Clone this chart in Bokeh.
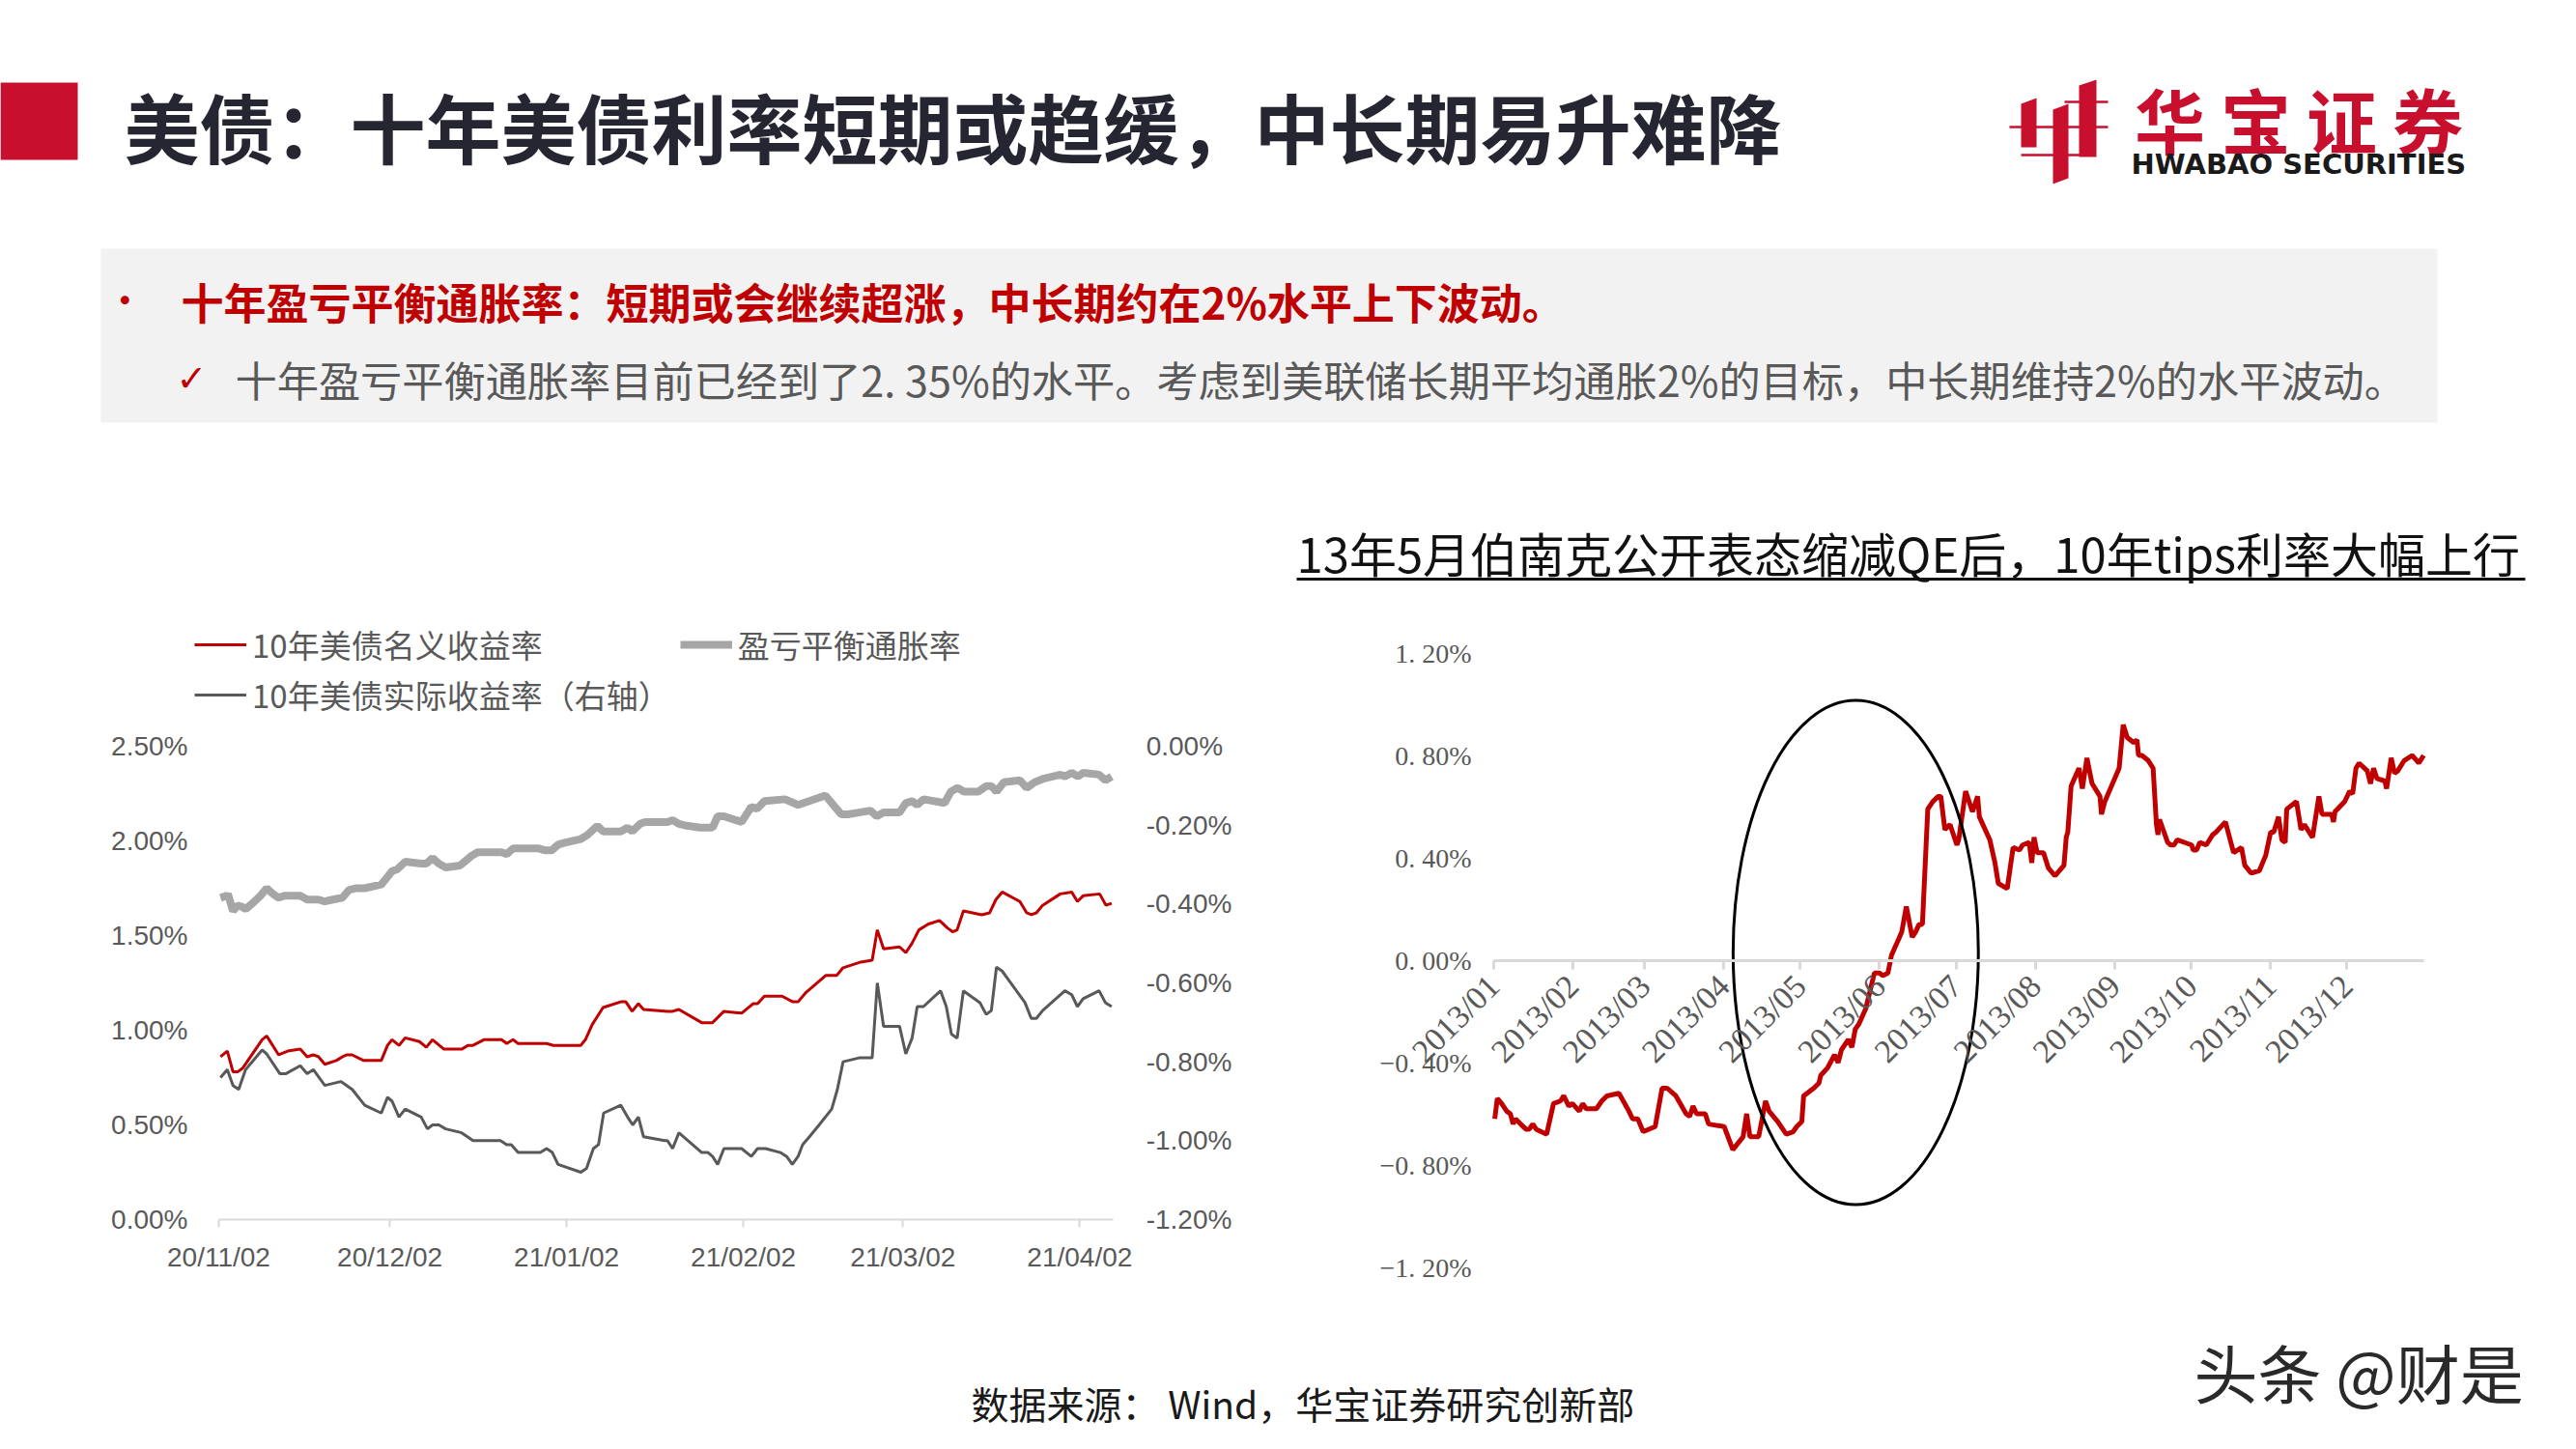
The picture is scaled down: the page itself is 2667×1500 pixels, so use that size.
import pandas as pd
from math import pi
from bokeh.plotting import figure
from bokeh.layouts import column, row
from bokeh.models import (Range1d, LinearAxis, FixedTicker, PrintfTickFormatter,
                          Legend, LegendItem)
from bokeh.core.properties import value
from bokeh.embed import file_html
from bokeh.resources import INLINE

CJK = "Noto Sans CJK SC"
RED = "#c00000"
LOGO_RED = "#c8102e"

# ---------------------------------------------------------------- data
# left chart: x = days after 2020-11-02
LEFT_START = "2020-11-02"
LEFT_END_DAYS = 156.9
BE_DAYS = [0.3, 1.4, 1.6, 2.5, 3.3, 4.2, 4.7, 5.9, 7.3, 8.4, 9.5, 10.5, 11.5, 14.3, 15.5, 17.5, 18.6,
           20.0, 21.7, 22.8, 24.0, 25.6, 28.5, 29.6, 30.4, 31.3, 32.7, 35.5, 36.4, 37.5, 38.6, 39.8,
           42.3, 43.1, 44.3, 45.4, 46.5, 49.6, 50.5, 51.6, 56.1, 57.3, 58.4, 59.5, 60.7, 63.5, 64.6,
           66.4, 67.4, 70.5, 71.7, 72.5, 73.9, 74.8, 78.7, 79.6, 80.7, 82.1, 84.4, 86.6, 87.5, 88.6,
           91.7, 93.4, 94.4, 95.7, 99.3, 101.6, 106.4, 107.5, 109.2, 110.3, 112.3, 114.3, 115.4,
           116.6, 119.4, 120.5, 121.6, 122.5, 123.6, 127.3, 128.4, 129.6, 130.7, 133.2, 134.6, 135.5,
           136.4, 137.7, 140.5, 141.7, 143.1, 144.8, 147.6, 148.4, 149.6, 150.7, 151.6, 154.4, 155.5,
           156.6]
BE_VALS = [1.70, 1.71, 1.72, 1.63, 1.66, 1.65, 1.64, 1.67, 1.71, 1.75, 1.72, 1.70, 1.71, 1.71, 1.69,
           1.69, 1.68, 1.69, 1.70, 1.74, 1.75, 1.75, 1.77, 1.81, 1.84, 1.85, 1.89, 1.88, 1.88, 1.91,
           1.88, 1.86, 1.87, 1.89, 1.92, 1.94, 1.94, 1.94, 1.93, 1.96, 1.96, 1.95, 1.95, 1.98, 1.99,
           2.01, 2.03, 2.08, 2.05, 2.05, 2.07, 2.05, 2.09, 2.10, 2.10, 2.11, 2.09, 2.08, 2.07, 2.07,
           2.13, 2.13, 2.10, 2.18, 2.17, 2.21, 2.22, 2.19, 2.24, 2.20, 2.14, 2.14, 2.15, 2.16, 2.13,
           2.15, 2.15, 2.20, 2.21, 2.19, 2.22, 2.20, 2.26, 2.28, 2.26, 2.26, 2.29, 2.29, 2.26, 2.31,
           2.32, 2.28, 2.31, 2.33, 2.35, 2.34, 2.36, 2.34, 2.36, 2.35, 2.32, 2.34]

NOM_DAYS = [0.3, 1.5, 2.5, 3.3, 4.2, 7.6, 8.4, 10.5, 12.1, 14.3, 15.5, 16.6, 17.5, 18.6, 20.6, 21.7,
            22.5, 23.4, 25.4, 28.5, 29.6, 30.4, 31.6, 32.7, 35.2, 36.4, 37.5, 39.5, 42.6, 43.7, 44.6,
            46.5, 49.6, 50.5, 51.6, 52.5, 57.5, 58.7, 63.5, 64.3, 65.5, 67.4, 70.5, 71.4, 72.5, 73.6,
            74.5, 78.7, 79.6, 80.7, 84.7, 86.6, 88.6, 91.7, 93.7, 94.5, 95.7, 98.8, 100.7, 101.6,
            103.0, 106.5, 108.4, 109.5, 112.6, 114.6, 115.5, 116.6, 119.4, 120.5, 121.6, 122.8, 124.4,
            126.4, 127.8, 128.7, 129.5, 130.6, 133.8, 135.2, 136.3, 137.4, 140.5, 141.7, 142.5, 143.4,
            144.5, 147.6, 149.6, 150.6, 151.6, 154.5, 155.6, 156.6]
NOM_VALS = [0.86, 0.89, 0.78, 0.78, 0.80, 0.95, 0.97, 0.87, 0.89, 0.90, 0.86, 0.87, 0.86, 0.82, 0.84,
            0.86, 0.87, 0.87, 0.84, 0.84, 0.92, 0.95, 0.92, 0.96, 0.94, 0.91, 0.95, 0.90, 0.90, 0.92,
            0.92, 0.95, 0.95, 0.93, 0.95, 0.93, 0.93, 0.92, 0.92, 0.95, 1.03, 1.12, 1.15, 1.15, 1.10,
            1.14, 1.11, 1.10, 1.10, 1.11, 1.04, 1.04, 1.10, 1.09, 1.14, 1.14, 1.18, 1.18, 1.15, 1.15,
            1.20, 1.29, 1.29, 1.33, 1.36, 1.37, 1.53, 1.43, 1.44, 1.41, 1.46, 1.53, 1.56, 1.58, 1.54,
            1.52, 1.53, 1.63, 1.61, 1.62, 1.69, 1.73, 1.68, 1.62, 1.61, 1.62, 1.66, 1.72, 1.73, 1.68,
            1.71, 1.72, 1.66, 1.67]

REAL_DAYS = [0.3, 1.5, 2.5, 3.5, 4.7, 7.6, 8.4, 10.7, 11.8, 14.3, 15.5, 16.6, 18.6, 21.4, 23.4, 25.6,
             28.5, 29.6, 30.4, 31.6, 32.7, 35.5, 36.6, 37.5, 38.6, 39.8, 42.6, 44.6, 49.4, 50.5, 51.3,
             52.5, 56.4, 57.5, 58.5, 59.5, 63.5, 64.5, 65.7, 66.6, 67.5, 70.5, 71.7, 72.6, 73.6, 74.5,
             78.2, 78.7, 79.6, 80.7, 84.7, 85.8, 86.6, 87.5, 88.6, 91.7, 93.4, 94.5, 95.9, 98.5, 99.6,
             100.6, 101.6, 102.4, 103.6, 105.3, 107.5, 108.5, 109.5, 112.3, 114.6, 115.5, 116.6, 119.4,
             120.5, 121.6, 122.5, 123.6, 126.6, 127.6, 128.5, 129.5, 130.6, 133.5, 134.6, 135.5, 136.4,
             137.4, 141.4, 142.5, 143.4, 144.5, 148.4, 149.6, 150.6, 151.6, 154.4, 155.5, 156.6]
REAL_VALS = [-0.84, -0.82, -0.86, -0.87, -0.82, -0.77, -0.78, -0.83, -0.83, -0.81, -0.83, -0.82, -0.86,
             -0.85, -0.87, -0.91, -0.93, -0.89, -0.90, -0.94, -0.92, -0.94, -0.97, -0.96, -0.96, -0.97,
             -0.98, -1.00, -1.00, -1.01, -1.01, -1.03, -1.03, -1.02, -1.03, -1.06, -1.08, -1.07, -1.02,
             -1.01, -0.93, -0.91, -0.94, -0.96, -0.94, -0.99, -1.00, -1.00, -1.02, -0.98, -1.03, -1.03,
             -1.04, -1.06, -1.02, -1.02, -1.04, -1.02, -1.02, -1.03, -1.04, -1.06, -1.04, -1.01, -0.99,
             -0.96, -0.92, -0.87, -0.80, -0.79, -0.79, -0.60, -0.71, -0.71, -0.78, -0.74, -0.66, -0.66,
             -0.62, -0.66, -0.73, -0.74, -0.62, -0.65, -0.68, -0.67, -0.56, -0.57, -0.65, -0.69, -0.69,
             -0.67, -0.62, -0.63, -0.66, -0.64, -0.62, -0.65, -0.66]

LEFT_TICK_DATES = ["2020-11-02", "2020-12-02", "2021-01-02", "2021-02-02", "2021-03-02", "2021-04-02"]
LEFT_TICK_LABELS = ["20/11/02", "20/12/02", "21/01/02", "21/02/02", "21/03/02", "21/04/02"]
LEFT_Y_TICKS = [0.0, 0.5, 1.0, 1.5, 2.0, 2.5]
LEFT_Y2_TICKS = [-1.2, -1.0, -0.8, -0.6, -0.4, -0.2, 0.0]

# right chart: 10y TIPS yield 2013, x = days after 2013-01-01
TIPS_START = "2013-01-01"
TIPS_END_DAYS = 364.0
TIPS_DAYS = [0.4, 1.4, 3.1, 5.1, 6.5, 7.6, 8.5, 10.5, 12.6, 13.9, 15.3, 16.6, 20.7, 23.4, 26.1, 27.4,
             29.4, 30.8, 33.5, 34.8, 36.2, 40.2, 42.3, 44.3, 49.0, 52.4, 54.4, 56.4, 58.5, 63.2, 65.9,
             67.9, 71.3, 75.3, 76.7, 78.0, 79.4, 82.8, 84.1, 90.2, 93.6, 97.6, 99.0, 100.3, 103.7, 106.4,
             107.8, 111.1, 114.5, 117.2, 118.6, 120.6, 121.3, 123.9, 125.3, 127.3, 128.0, 130.7, 133.4,
             134.8, 136.1, 138.8, 140.2, 141.5, 142.9, 145.6, 149.0, 151.0, 152.3, 154.3, 155.7, 158.4,
             159.7, 161.5, 163.8, 165.1, 166.5, 167.8, 169.9, 171.9, 173.9, 175.0, 176.6, 178.6, 181.3,
             182.0, 184.7, 187.4, 189.4, 190.1, 194.2, 196.2, 197.5, 201.0, 203.3, 205.8, 207.0, 209.6,
             210.6, 211.5, 212.7, 215.2, 217.1, 219.7, 223.2, 224.1, 224.7, 226.0, 229.1, 230.4, 232.2,
             234.2, 237.3, 237.9, 239.2, 244.8, 246.4, 248.0, 250.5, 251.8, 252.4, 253.7, 256.2, 258.1,
             259.4, 260.0, 260.6, 263.8, 265.0, 266.3, 267.5, 273.2, 273.8, 275.1, 276.4, 278.9, 281.4,
             282.7, 286.4, 289.6, 292.7, 294.0, 296.5, 299.7, 302.2, 304.1, 305.3, 307.2, 308.5, 309.8,
             310.4, 314.2, 316.0, 317.3, 320.5, 323.0, 324.2, 328.0, 328.7, 329.3, 333.1, 335.0, 336.2,
             337.5, 338.7, 341.9, 343.2, 344.4, 345.7, 348.8, 349.5, 351.3, 352.6, 353.9, 356.4, 359.5,
             362.1, 364.0]
TIPS_VALS = [-0.62, -0.54, -0.56, -0.59, -0.60, -0.64, -0.62, -0.64, -0.66, -0.66, -0.64, -0.66, -0.68,
             -0.56, -0.55, -0.53, -0.57, -0.56, -0.59, -0.56, -0.58, -0.58, -0.55, -0.53, -0.52, -0.58,
             -0.62, -0.62, -0.67, -0.65, -0.50, -0.50, -0.53, -0.60, -0.61, -0.57, -0.60, -0.60, -0.64,
             -0.65, -0.74, -0.69, -0.60, -0.69, -0.69, -0.55, -0.59, -0.63, -0.68, -0.67, -0.65, -0.63,
             -0.53, -0.51, -0.50, -0.48, -0.45, -0.42, -0.37, -0.40, -0.35, -0.31, -0.34, -0.27, -0.25,
             -0.19, -0.05, -0.05, -0.06, -0.05, 0.02, 0.08, 0.11, 0.21, 0.09, 0.11, 0.14, 0.14, 0.59,
             0.62, 0.64, 0.64, 0.51, 0.53, 0.45, 0.47, 0.66, 0.58, 0.64, 0.56, 0.47, 0.38, 0.30, 0.28,
             0.44, 0.43, 0.45, 0.46, 0.38, 0.48, 0.42, 0.42, 0.36, 0.33, 0.37, 0.48, 0.50, 0.68, 0.75,
             0.67, 0.79, 0.69, 0.64, 0.57, 0.62, 0.75, 0.92, 0.87, 0.85, 0.86, 0.80, 0.80, 0.78, 0.75,
             0.53, 0.49, 0.55, 0.46, 0.45, 0.45, 0.47, 0.45, 0.43, 0.43, 0.46, 0.45, 0.49, 0.50, 0.54,
             0.42, 0.44, 0.37, 0.34, 0.35, 0.41, 0.50, 0.50, 0.56, 0.47, 0.46, 0.59, 0.62, 0.51, 0.53,
             0.48, 0.64, 0.57, 0.57, 0.54, 0.58, 0.62, 0.66, 0.65, 0.75, 0.77, 0.74, 0.69, 0.75, 0.71,
             0.70, 0.67, 0.79, 0.73, 0.74, 0.78, 0.80, 0.77, 0.80]
TIPS_TICK_DATES = ["2013-01-01", "2013-02-01", "2013-03-01", "2013-04-01", "2013-05-01", "2013-06-01",
                   "2013-07-01", "2013-08-01", "2013-09-01", "2013-10-01", "2013-11-01", "2013-12-01"]
TIPS_TICK_LABELS = ["2013/01", "2013/02", "2013/03", "2013/04", "2013/05", "2013/06",
                    "2013/07", "2013/08", "2013/09", "2013/10", "2013/11", "2013/12"]
TIPS_Y_TICKS = [-1.2, -0.8, -0.4, 0.0, 0.4, 0.8, 1.2]
TIPS_Y_LABELS = ["\u22121. 20%", "\u22120. 80%", "\u22120. 40%", "0. 00%", "0. 40%", "0. 80%", "1. 20%"]
# highlight ellipse around the May-June 2013 taper tantrum
ELLIPSE_CENTER_DAYS = 141.7
ELLIPSE_CENTER_VAL = 0.03
ELLIPSE_WIDTH_DAYS = 96.0
ELLIPSE_HEIGHT_VAL = 1.97

TITLE = "美债：十年美债利率短期或趋缓，中长期易升难降"
POINT_1 = "十年盈亏平衡通胀率：短期或会继续超涨，中长期约在2%水平上下波动。"
POINT_2 = "十年盈亏平衡通胀率目前已经到了2. 35%的水平。考虑到美联储长期平均通胀2%的目标，中长期维持2%的水平波动。"
RIGHT_TITLE = "13年5月伯南克公开表态缩减QE后，10年tips利率大幅上行"
LOGO_CHARS = ["华", "宝", "证", "券"]
SOURCE = "数据来源：  Wind，华宝证券研究创新部"
WATERMARK = "头条 @财是"

DAY_MS = 86400000.0


def ms(date_str):
    return pd.Timestamp(date_str).value / 1e6


def day_ms(start, days):
    base = ms(start)
    return [base + d * DAY_MS for d in days]


def pair(xs, ys):
    n = min(len(xs), len(ys))
    return xs[:n], ys[:n]


def bare(p):
    p.outline_line_color = None
    p.grid.visible = False
    p.background_fill_color = "white"
    p.border_fill_color = "white"


# ---------------------------------------------------------------- layout (page pixels)
HDR_H = 620
MID_H = 760
FT_H = 120
BORDER_TB = 20                                  # top/bottom border of both chart figures
FRAME_TOP = HDR_H + BORDER_TB                   # page y of chart frames' top
FRAME_BOT = HDR_H + MID_H - BORDER_TB           # page y of chart frames' bottom
LEFT_W, RIGHT_W = 1330, 1337
# left chart geometry
L_X0_PX, L_PX_PER_DAY = 226, 5.903              # page x of first date, px per day
L_Y0_PX, L_PX_PER_PCT = 1262, 196.0             # page y of 0%, px per 1%
L_Y2_TOP_PX, L_Y2_PX_PER_PCT = 772, 1225.0 / 3  # page y of 0% on the right axis
# right chart geometry
R_X0_PX, R_PX_PER_DAY = 1546 - LEFT_W, 2.645
R_Y0_PX, R_PX_PER_PCT = 993.5, 265.0

# ---------------------------------------------------------------- header
hdr = figure(width=2667, height=HDR_H, x_range=Range1d(0, 2667), y_range=Range1d(HDR_H, 0),
             x_axis_type=None, y_axis_type=None, min_border=0, output_backend="svg",
             toolbar_location=None)
bare(hdr)
hdr.quad(left=[0], right=[80], top=[85], bottom=[165], fill_color=LOGO_RED, line_color=None)
hdr.text(x=[128], y=[129], text=[TITLE], text_font=value(CJK), text_font_size="78px",
         text_font_style="bold", text_color="#262633", text_baseline="middle")
# logo mark
hdr.patches(xs=[[2092, 2108, 2108, 2092], [2125, 2141, 2141, 2125], [2152, 2170, 2170, 2152]],
            ys=[[107, 101, 152, 152], [113, 107, 184, 190], [88, 82, 162, 162]],
            fill_color=LOGO_RED, line_color=None)
hdr.segment(x0=[2137, 2080, 2092], y0=[105, 131, 160], x1=[2182, 2182, 2153], y1=[105, 131, 160],
            line_color=LOGO_RED, line_width=2.5)
hdr.text(x=[2246, 2335, 2424, 2513], y=[121] * 4, text=LOGO_CHARS, text_font=value(CJK),
         text_font_size="73px", text_font_style="bold", text_color=LOGO_RED,
         text_baseline="middle", text_align="center")
hdr.text(x=[2206], y=[169], text=["HWABAO SECURITIES"], text_font=value("DejaVu Sans"),
         text_font_size="29px", text_font_style="bold", text_color="#1a1a1a", text_baseline="middle")
# grey bullet box
hdr.quad(left=[104], right=[2523], top=[257], bottom=[437], fill_color="#f2f2f2", line_color=None)
hdr.text(x=[120], y=[311], text=["•"], text_font=value("DejaVu Sans"), text_font_size="30px",
         text_color=RED, text_baseline="middle")
hdr.text(x=[187], y=[311], text=[POINT_1], text_font=value(CJK), text_font_size="44px",
         text_font_style="bold", text_color=RED, text_baseline="middle")
hdr.text(x=[182], y=[391], text=["✓"], text_font=value("DejaVu Sans"), text_font_size="38px",
         text_color=RED, text_baseline="middle")
hdr.text(x=[243], y=[391], text=[POINT_2], text_font=value(CJK), text_font_size="43.2px",
         text_color="#595959", text_baseline="middle")
# right chart heading (underlined)
hdr.text(x=[1342], y=[571], text=[RIGHT_TITLE], text_font=value(CJK), text_font_size="49px",
         text_color="#111111", text_baseline="middle")
hdr.segment(x0=[1342], y0=[599], x1=[2614], y1=[599], line_color="#111111", line_width=3)

# ---------------------------------------------------------------- left chart
lx0 = ms(LEFT_START)
left = figure(width=LEFT_W, height=MID_H, x_axis_type="datetime",
              x_range=Range1d(lx0 - L_X0_PX / L_PX_PER_DAY * DAY_MS,
                              lx0 + (LEFT_W - L_X0_PX) / L_PX_PER_DAY * DAY_MS),
              y_range=Range1d(-(FRAME_BOT - L_Y0_PX) / L_PX_PER_PCT,
                              (L_Y0_PX - FRAME_TOP) / L_PX_PER_PCT),
              min_border_left=0, min_border_right=0, min_border_top=BORDER_TB,
              min_border_bottom=BORDER_TB, output_backend="svg", toolbar_location=None)
bare(left)
left.extra_y_ranges = {"real": Range1d(-1.2 - (FRAME_BOT - L_Y0_PX) / L_Y2_PX_PER_PCT,
                                       (L_Y2_TOP_PX - FRAME_TOP) / L_Y2_PX_PER_PCT)}

x, y = pair(day_ms(LEFT_START, REAL_DAYS), REAL_VALS)
r_real = left.line(x, y, y_range_name="real", line_color="#595959", line_width=3)
x, y = pair(day_ms(LEFT_START, NOM_DAYS), NOM_VALS)
r_nom = left.line(x, y, line_color=RED, line_width=3)
x, y = pair(day_ms(LEFT_START, BE_DAYS), BE_VALS)
r_be = left.line(x, y, line_color="#a6a6a6", line_width=8)

AX_FONT = "Liberation Sans"
lx_end = lx0 + LEFT_END_DAYS * DAY_MS
xa = left.xaxis[0]
xa.fixed_location = 0
xa.bounds = (lx0, lx_end)
xa.ticker = FixedTicker(ticks=[ms(d) for d in LEFT_TICK_DATES])
xa.major_label_overrides = {ms(d): l for d, l in zip(LEFT_TICK_DATES, LEFT_TICK_LABELS)}
xa.axis_line_color = "#d9d9d9"
xa.axis_line_width = 2
xa.major_tick_line_color = "#d9d9d9"
xa.major_tick_line_width = 2
xa.major_tick_in = 0
xa.major_tick_out = 8
xa.minor_tick_line_color = None
xa.major_label_standoff = 15
xa.major_label_text_font = AX_FONT
xa.major_label_text_font_size = "28px"
xa.major_label_text_color = "#595959"

ya = left.yaxis[0]
ya.fixed_location = lx0
ya.bounds = (0, 2.5)
ya.ticker = FixedTicker(ticks=LEFT_Y_TICKS)
ya.formatter = PrintfTickFormatter(format="%.2f%%")
ya.axis_line_color = None
ya.major_tick_line_color = None
ya.minor_tick_line_color = None
ya.major_label_standoff = 26
ya.major_label_text_font = AX_FONT
ya.major_label_text_font_size = "28px"
ya.major_label_text_color = "#595959"

ya2 = LinearAxis(y_range_name="real", ticker=FixedTicker(ticks=LEFT_Y2_TICKS),
                 formatter=PrintfTickFormatter(format="%.2f%%"))
ya2.fixed_location = lx_end
ya2.bounds = (-1.2, 0.0)
ya2.axis_line_color = None
ya2.major_tick_line_color = None
ya2.minor_tick_line_color = None
ya2.major_label_standoff = 28
ya2.major_label_text_font = AX_FONT
ya2.major_label_text_font_size = "28px"
ya2.major_label_text_color = "#595959"
left.add_layout(ya2, "right")

leg_style = dict(glyph_width=54, glyph_height=20, label_standoff=6, label_height=46, padding=0,
                 margin=0, border_line_color=None, background_fill_alpha=0,
                 label_text_font=CJK, label_text_font_size="33px", label_text_color="#595959")
# legend location = bottom-left corner, px from the frame's bottom-left
leg1 = Legend(items=[LegendItem(label="10年美债名义收益率", renderers=[r_nom]),
                     LegendItem(label="盈亏平衡通胀率", renderers=[r_be])],
              orientation="horizontal", location=(201, FRAME_BOT - 691), spacing=142, **leg_style)
leg2 = Legend(items=[LegendItem(label="10年美债实际收益率（右轴）", renderers=[r_real])],
              orientation="horizontal", location=(201, FRAME_BOT - 743), **leg_style)
left.add_layout(leg1)
left.add_layout(leg2)

# ---------------------------------------------------------------- right chart
rx0 = ms(TIPS_START)
right = figure(width=RIGHT_W, height=MID_H, x_axis_type="datetime",
               x_range=Range1d(rx0 - R_X0_PX / R_PX_PER_DAY * DAY_MS,
                               rx0 + (RIGHT_W - R_X0_PX) / R_PX_PER_DAY * DAY_MS),
               y_range=Range1d(-(FRAME_BOT - R_Y0_PX) / R_PX_PER_PCT,
                               (R_Y0_PX - FRAME_TOP) / R_PX_PER_PCT),
               min_border_left=0, min_border_right=0, min_border_top=BORDER_TB,
               min_border_bottom=BORDER_TB, output_backend="svg", toolbar_location=None)
bare(right)
x, y = pair(day_ms(TIPS_START, TIPS_DAYS), TIPS_VALS)
right.line(x, y, line_color=RED, line_width=5)
right.ellipse(x=[rx0 + ELLIPSE_CENTER_DAYS * DAY_MS], y=[ELLIPSE_CENTER_VAL],
              width=ELLIPSE_WIDTH_DAYS * DAY_MS, height=ELLIPSE_HEIGHT_VAL,
              fill_color=None, line_color="black", line_width=3)

rxa = right.xaxis[0]
rxa.fixed_location = 0
rxa.bounds = (rx0, rx0 + TIPS_END_DAYS * DAY_MS)
rxa.ticker = FixedTicker(ticks=[ms(d) for d in TIPS_TICK_DATES])
rxa.major_label_overrides = {ms(d): l for d, l in zip(TIPS_TICK_DATES, TIPS_TICK_LABELS)}
rxa.major_label_orientation = pi / 4
rxa.axis_line_color = "#d9d9d9"
rxa.axis_line_width = 3
rxa.major_tick_line_color = "#d9d9d9"
rxa.major_tick_line_width = 3
rxa.major_tick_in = 0
rxa.major_tick_out = 9
rxa.minor_tick_line_color = None
rxa.major_label_standoff = 12
rxa.major_label_text_font = "Liberation Serif"
rxa.major_label_text_font_size = "34px"
rxa.major_label_text_color = "#595959"

rya = right.yaxis[0]
rya.fixed_location = rx0
rya.bounds = (-1.2, 1.2)
rya.ticker = FixedTicker(ticks=TIPS_Y_TICKS)
rya.major_label_overrides = {t: l for t, l in zip(TIPS_Y_TICKS, TIPS_Y_LABELS)}
rya.axis_line_color = None
rya.major_tick_line_color = None
rya.minor_tick_line_color = None
rya.major_label_standoff = 17
rya.major_label_text_font = "Liberation Serif"
rya.major_label_text_font_size = "28px"
rya.major_label_text_color = "#595959"

# ---------------------------------------------------------------- footer
ftr = figure(width=2667, height=FT_H, x_range=Range1d(0, 2667), y_range=Range1d(FT_H, 0),
             x_axis_type=None, y_axis_type=None, min_border=0, output_backend="svg",
             toolbar_location=None)
bare(ftr)
ftr.text(x=[1005], y=[71], text=[SOURCE], text_font=value(CJK), text_font_size="39px",
         text_color="#1a1a1a", text_baseline="middle")
ftr.text(x=[2271], y=[38], text=[WATERMARK], text_font=value(CJK), text_font_size="66px",
         text_color="#2a2a2a", text_baseline="middle")

page = column(hdr, row(left, right), ftr)
open("out.html", "w").write(file_html(page, INLINE))
